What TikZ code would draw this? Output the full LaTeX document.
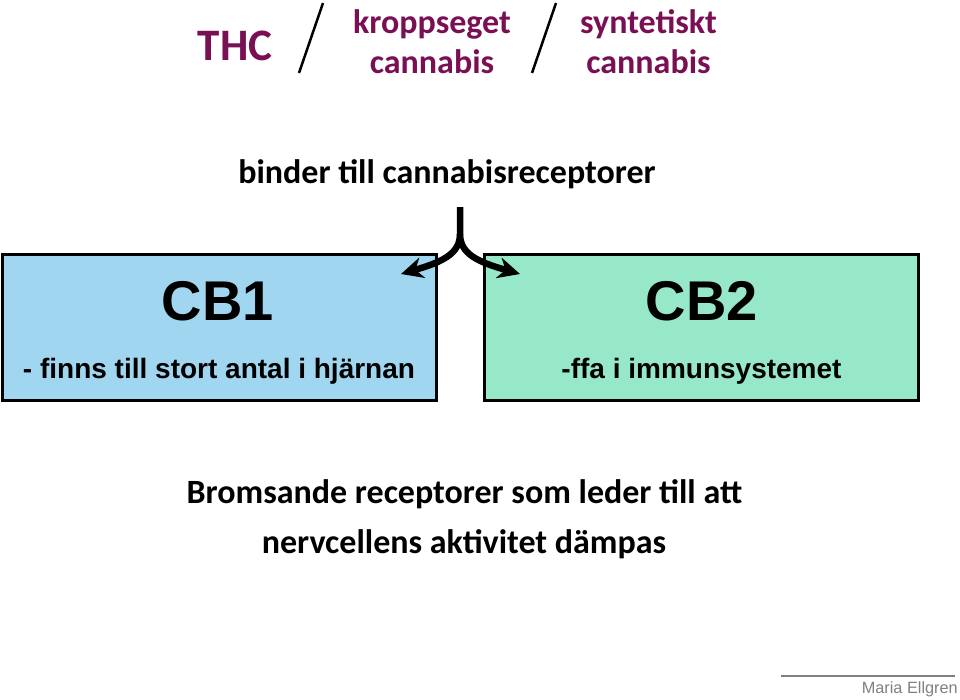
\documentclass[tikz,border=0pt]{standalone}
\usepackage{fontspec}
\setmainfont{Carlito}
\newfontfamily\arialfont{Liberation Sans}
\usetikzlibrary{arrows.meta,positioning}
\definecolor{thcpurple}{RGB}{122,16,84}
\definecolor{cbblue}{RGB}{160,214,240}
\definecolor{cbgreen}{RGB}{150,232,200}
\definecolor{siggray}{RGB}{128,128,128}
\tikzset{
  txt/.style={inner sep=0pt, anchor=base},
  headtxt/.style={txt, font=\fontsize{34}{40}\selectfont\bfseries},
  purpletxt/.style={headtxt, text=thcpurple},
  cbbox/.style={draw=black, line width=3pt, inner sep=0pt,
    minimum width=434pt, minimum height=146pt},
  cbtitle/.style={txt, font=\arialfont\fontsize{56}{60}\selectfont\bfseries},
  cbsub/.style={txt, font=\arialfont\fontsize{28}{32}\selectfont\bfseries},
  forkarrow/.style={line width=6.5pt, -{Stealth[length=22pt, width=21pt, inset=7pt]}},
  slash/.style={line width=2.5pt}
}
\begin{document}
\begin{tikzpicture}[x=1pt, y=-1pt]
\useasboundingbox (0,0) rectangle (960,699);
% header
\node[purpletxt, font=\fontsize{45}{50}\selectfont\bfseries] (thc) at (235,60) {THC};
\draw[slash] (323,3) -- (299,73);
\node[purpletxt] (kropp) at (432,33) {kroppseget};
\node[purpletxt] (kroppcan) at (432,73) {cannabis};
\draw[slash] (556,3) -- (532,73);
\node[purpletxt] (synt) at (648.5,33) {syntetiskt};
\node[purpletxt] (syntcan) at (648.5,73) {cannabis};
\node[headtxt] (binder) at (447,183) {binder till cannabisreceptorer};
% receptor boxes
\node[cbbox, fill=cbblue] (cbone) at (219,327.5) {};
\node[cbbox, fill=cbgreen] (cbtwo) at (701,327.5) {};
\node[cbtitle] (cbonet) at (218,320) {CB1};
\node[cbsub] (cbones) at (219,378) {- finns till stort antal i hjärnan};
\node[cbtitle] (cbtwot) at (702,320) {CB2};
\node[cbsub] (cbtwos) at (701.5,378) {-ffa i immunsystemet};
% fork arrow
\coordinate (stem) at (460,207);
\coordinate (fork) at (460,234);
\coordinate (tipl) at (401,274);
\coordinate (tipr) at (520,274);
\draw[forkarrow] (stem) -- (fork) .. controls (460,254) and (442,262) .. (tipl);
\draw[forkarrow] (fork) .. controls (460,254) and (478,262) .. (tipr);
% conclusion
\node[headtxt] (brom) at (464.5,503) {Bromsande receptorer som leder till att};
\node[headtxt] (nerv) at (464,553) {nervcellens aktivitet dämpas};
% signature
\coordinate (sigl) at (781,676);
\coordinate (sigr) at (955,676);
\draw[siggray, line width=1.5pt] (sigl) -- (sigr);
\node[txt, anchor=base east, text=siggray, font=\arialfont\fontsize{16.3}{18}\selectfont] (sig) at (958,693) {Maria Ellgren};
\end{tikzpicture}
\end{document}
